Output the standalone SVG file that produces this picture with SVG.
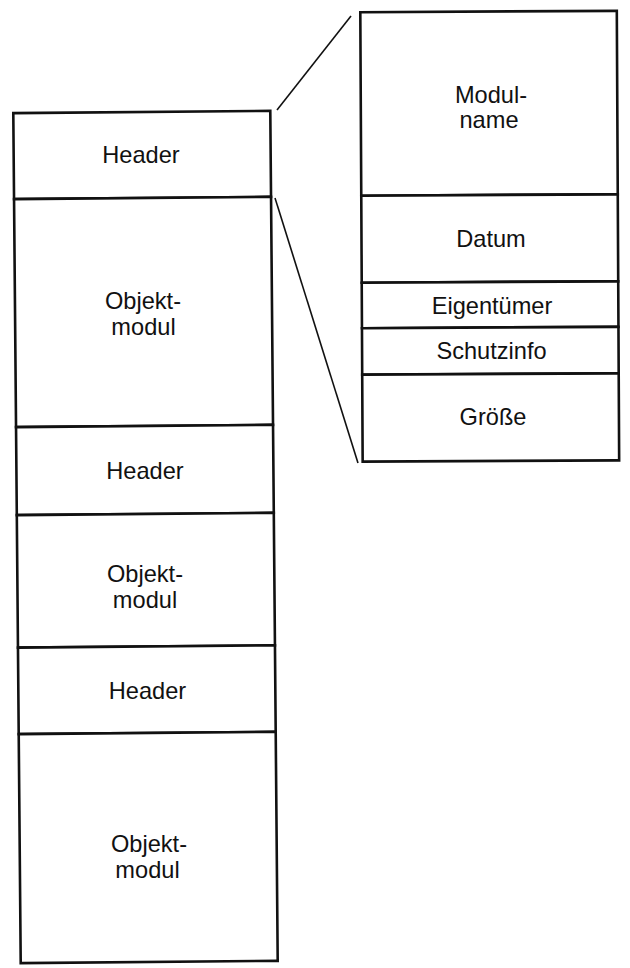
<svg xmlns="http://www.w3.org/2000/svg" width="630" height="968" viewBox="0 0 630 968">
<style>
  .box { fill: #ffffff; stroke: #111111; stroke-width: 2.6; }
  .lbl { font-family: "Liberation Sans", Arial, sans-serif; font-size: 23.6px; fill: #111111; text-anchor: middle; }
  .con { stroke: #111111; stroke-width: 1.6; fill: none; }
</style>
<rect width="630" height="968" fill="#ffffff"/>
<g id="connectors">
  <line class="con" x1="277" y1="110" x2="351" y2="16"/>
  <line class="con" x1="275" y1="198" x2="358" y2="463"/>
</g>
<g id="left-stack">
  <g id="header1">
    <rect class="box" x="17" y="112" width="257" height="86" transform="rotate(-0.5 145 537)"/>
    <text class="lbl" x="141" y="163">Header</text>
  </g>
  <g id="objektmodul1">
    <rect class="box" x="17" y="198" width="257" height="228" transform="rotate(-0.5 145 537)"/>
    <text class="lbl" x="143" y="308.5">Objekt-</text>
    <text class="lbl" x="143.5" y="334.5">modul</text>
  </g>
  <g id="header2">
    <rect class="box" x="17" y="426" width="257" height="88" transform="rotate(-0.5 145 537)"/>
    <text class="lbl" x="145" y="479">Header</text>
  </g>
  <g id="objektmodul2">
    <rect class="box" x="17" y="514" width="257" height="132.5" transform="rotate(-0.5 145 537)"/>
    <text class="lbl" x="145" y="581.5">Objekt-</text>
    <text class="lbl" x="145" y="607.5">modul</text>
  </g>
  <g id="header3">
    <rect class="box" x="17" y="646.5" width="257" height="86.5" transform="rotate(-0.5 145 537)"/>
    <text class="lbl" x="147.5" y="699">Header</text>
  </g>
  <g id="objektmodul3">
    <rect class="box" x="17" y="733" width="257" height="229" transform="rotate(-0.5 145 537)"/>
    <text class="lbl" x="149" y="852">Objekt-</text>
    <text class="lbl" x="147.5" y="878">modul</text>
  </g>
</g>
<g id="right-stack">
  <g id="modulname">
    <rect class="box" x="361.5" y="11.5" width="256.5" height="183.5" transform="rotate(-0.3 492 240)"/>
    <text class="lbl" x="491" y="102.5">Modul-</text>
    <text class="lbl" x="489" y="128">name</text>
  </g>
  <g id="datum">
    <rect class="box" x="361.5" y="195" width="256.5" height="87" transform="rotate(-0.3 492 240)"/>
    <text class="lbl" x="491" y="247">Datum</text>
  </g>
  <g id="eigentuemer">
    <rect class="box" x="361.5" y="282" width="256.5" height="45.5" transform="rotate(-0.3 492 240)"/>
    <text class="lbl" x="492" y="314">Eigentümer</text>
  </g>
  <g id="schutzinfo">
    <rect class="box" x="361.5" y="327.5" width="256.5" height="46.5" transform="rotate(-0.3 492 240)"/>
    <text class="lbl" x="491.5" y="359">Schutzinfo</text>
  </g>
  <g id="groesse">
    <rect class="box" x="361.5" y="374" width="256.5" height="87" transform="rotate(-0.3 492 240)"/>
    <text class="lbl" x="493" y="425">Größe</text>
  </g>
</g>
</svg>
